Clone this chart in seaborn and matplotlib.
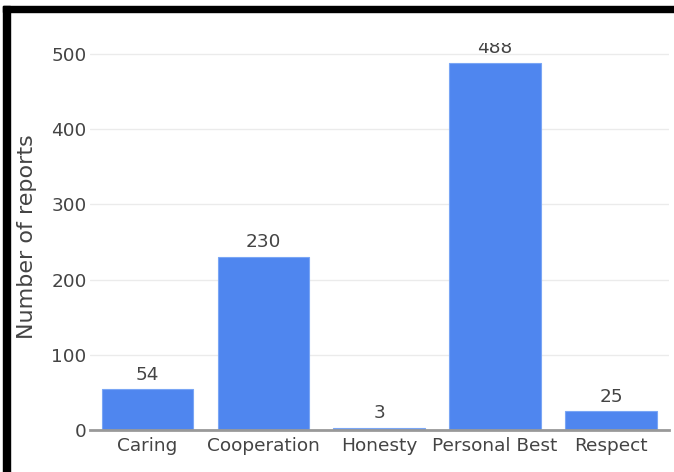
import pandas as pd
import seaborn as sns
from matplotlib import pyplot as plt
from matplotlib.patches import Rectangle

categories = ["Caring", "Cooperation", "Honesty", "Personal Best", "Respect"]
reports = [54, 230, 3, 488, 25]
y_ticks = [0, 100, 200, 300, 400, 500]

BAR_COLOR = "#4f86ef"
TEXT_COLOR = "#444444"

sns.set_theme(style="white")
plt.rcParams["font.family"] = ["DejaVu Sans"]

df = pd.DataFrame({"category": categories, "reports": reports})

fig = plt.figure(figsize=(6.74, 4.72), dpi=100)
ax = fig.add_axes([0.1328, 0.0890, 0.8598, 0.8189])

sns.barplot(data=df, x="category", y="reports", color=BAR_COLOR,
            saturation=1, width=0.79, edgecolor="#7aa6f5", linewidth=0.8,
            ax=ax)

ax.set_xlim(-0.5, len(categories) - 0.5)
ax.set_ylim(0, 514)
ax.set_yticks(y_ticks)
ax.grid(axis="y", color="#ebebeb", linewidth=1)
ax.set_axisbelow(True)
for side in ["top", "right", "left"]:
    ax.spines[side].set_visible(False)
ax.spines["bottom"].set_color("#999999")
ax.spines["bottom"].set_linewidth(2)
ax.spines["bottom"].set_zorder(5)

ax.tick_params(axis="both", length=0, labelsize=13.3, colors=TEXT_COLOR)
ax.tick_params(axis="x", pad=5)
ax.tick_params(axis="y", pad=2)
ax.set_xlabel("")
ax.set_ylabel("Number of reports", fontsize=16, color=TEXT_COLOR)
ax.yaxis.set_label_coords(-0.090, 0.5)

for container in ax.containers:
    ax.bar_label(container, padding=4, fontsize=13.3, color=TEXT_COLOR,
                 clip_on=True)

# black frame on top and left edge
fig.patches.append(Rectangle((3 / 674, 0), 7 / 674, 1 - 6 / 472,
                             transform=fig.transFigure, color="black",
                             zorder=10))
fig.patches.append(Rectangle((3 / 674, 1 - 12 / 472), 1, 6 / 472,
                             transform=fig.transFigure, color="black",
                             zorder=10))

fig.savefig("out.png", dpi=100)
